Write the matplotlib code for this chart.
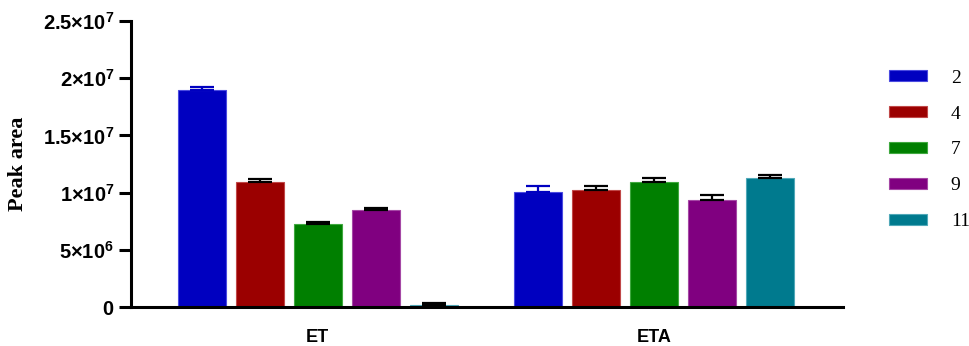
import numpy as np
import matplotlib.pyplot as plt
from matplotlib.patches import Patch

plt.rcParams['mathtext.fontset'] = 'custom'
plt.rcParams['mathtext.rm'] = 'Liberation Sans:bold'
plt.rcParams['mathtext.bf'] = 'Liberation Sans:bold'
plt.rcParams['mathtext.it'] = 'Liberation Sans:bold'

# Data
groups = ["ET", "ETA"]
series = ["2", "4", "7", "9", "11"]
mean_ET = [1.893e7, 1.094e7, 7.24e6, 8.48e6, 1.9e5]
err_ET = [3.2e5, 2.1e5, 2.3e5, 2.0e5, 1.3e5]
mean_ETA = [1.003e7, 1.024e7, 1.097e7, 9.38e6, 1.126e7]
err_ETA = [5.6e5, 3.2e5, 2.9e5, 4.4e5, 2.4e5]
yticks = [0, 5e6, 1e7, 1.5e7, 2e7, 2.5e7]
ytick_labels = [r"$\mathbf{0}$", r"$\mathbf{5{\times}10^{6}}$", r"$\mathbf{1{\times}10^{7}}$",
                r"$\mathbf{1.5{\times}10^{7}}$", r"$\mathbf{2{\times}10^{7}}$",
                r"$\mathbf{2.5{\times}10^{7}}$"]

colors = ["#0000C0", "#9B0000", "#007F00", "#800080", "#007A8E"]
edges = ["#4A4AE0", "#C04848", "#3FA83F", "#A548A5", "#50A8B8"]
cap_colors = ["#0000C0", "black", "black", "black", "black"]

means = np.array([mean_ET, mean_ETA])
errs = np.array([err_ET, err_ETA])

fig = plt.figure(figsize=(9.7, 3.46), dpi=100)
ax = fig.add_axes([0.135, 0.1127, 0.734, 0.8266])

centers = [3.22, 9.02]
width = 0.83
for g, c in enumerate(centers):
    for i in range(len(series)):
        x = c + (i - 2)
        ax.bar(x, means[g, i], width=width, color=colors[i], edgecolor=edges[i],
               linewidth=0.8, zorder=2)
        ax.errorbar(x, means[g, i], yerr=[[0], [errs[g, i]]], fmt='none',
                    ecolor=cap_colors[i], elinewidth=1.6, capsize=8.5,
                    capthick=1.6, zorder=3)

ax.set_xlim(0, 12.28)
ax.set_ylim(0, 2.5e7)
ax.set_xticks(centers)
ax.set_xticklabels(groups, fontsize=13, fontweight='bold', family='Liberation Sans')
ax.tick_params(axis='x', length=0, pad=16)
ax.set_yticks(yticks)
ax.set_yticklabels(ytick_labels, fontsize=14.5)
ax.tick_params(axis='y', length=9, width=2.2, pad=3)

for s in ['top', 'right']:
    ax.spines[s].set_visible(False)
ax.spines['left'].set_linewidth(2.2)
ax.spines['bottom'].set_linewidth(2.2)

ax.set_ylabel("Peak area", fontsize=16, fontweight='bold', family='Liberation Serif')
ax.yaxis.set_label_coords(-0.145, 0.5)

handles = [Patch(facecolor=colors[i], edgecolor=edges[i], linewidth=0.8) for i in range(len(series))]
fig.legend(handles, series, loc='upper left', bbox_to_anchor=(0.908, 0.821),
           frameon=False, prop={'family': 'Liberation Serif', 'size': 14},
           handlelength=2.0, handleheight=0.5, labelspacing=0.97, handletextpad=1.2,
           borderaxespad=0.0)

fig.savefig("out.png", dpi=100)
